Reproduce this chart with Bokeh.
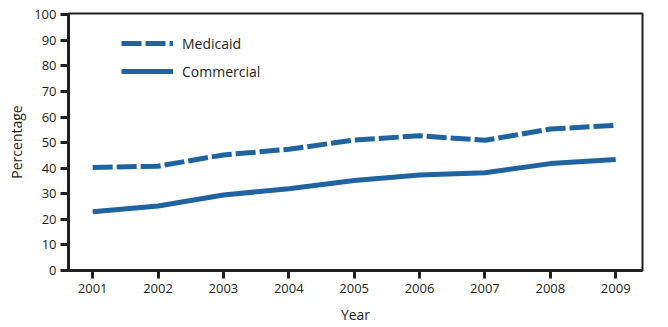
from bokeh.plotting import figure
from bokeh.models import ColumnDataSource, Legend, LegendItem, FixedTicker, Range1d
from bokeh.embed import file_html
from bokeh.resources import INLINE

years = [2001, 2002, 2003, 2004, 2005, 2006, 2007, 2008, 2009]
medicaid = [40.3, 40.8, 45.2, 47.4, 51.0, 52.7, 50.9, 55.3, 56.8]
commercial = [23.0, 25.2, 29.5, 32.0, 35.2, 37.3, 38.2, 41.8, 43.4]
y_ticks = [0, 10, 20, 30, 40, 50, 60, 70, 80, 90, 100]

FONT = "Open Sans"
BLUE = "#1f63a1"
DARK = "#231f20"

p = figure(frame_width=574, frame_height=257, output_backend="svg", toolbar_location=None,
           x_range=Range1d(2000.63, 2009.41), y_range=Range1d(0, 100.5))
p.min_border_left = 68
p.min_border_right = 26
p.min_border_top = 13
p.min_border_bottom = 57
p.background_fill_color = "white"
p.border_fill_color = "white"
p.outline_line_color = DARK
p.outline_line_width = 2
p.xgrid.visible = False
p.ygrid.visible = False

src = ColumnDataSource(dict(year=years, medicaid=medicaid, commercial=commercial))
r1 = p.line("year", "medicaid", source=src, line_color=BLUE, line_width=5, line_dash="20 4")
r2 = p.line("year", "commercial", source=src, line_color=BLUE, line_width=5)

for ax in (p.xaxis[0], p.yaxis[0]):
    ax.axis_line_color = DARK
    ax.axis_line_width = 3
    ax.major_tick_line_color = DARK
    ax.major_tick_line_width = 3
    ax.major_tick_out = 8
    ax.major_tick_in = 0
    ax.minor_tick_line_color = None
    ax.major_label_text_font = FONT
    ax.major_label_text_font_size = "13px"
    ax.major_label_text_color = DARK
    ax.axis_label_text_font = FONT
    ax.axis_label_text_font_size = "14px"
    ax.axis_label_text_font_style = "normal"
    ax.axis_label_text_color = DARK

p.xaxis[0].ticker = FixedTicker(ticks=years)
p.yaxis[0].ticker = FixedTicker(ticks=y_ticks)
p.xaxis[0].axis_label = "Year"
p.yaxis[0].axis_label = "Percentage"
p.xaxis[0].major_label_standoff = 5
p.yaxis[0].major_label_standoff = 4
p.xaxis[0].axis_label_standoff = 9
p.yaxis[0].axis_label_standoff = 5

legend = Legend(items=[LegendItem(label="Medicaid", renderers=[r1]),
                       LegendItem(label="Commercial", renderers=[r2])],
                location=(53, 189))
legend.glyph_width = 52
legend.glyph_height = 20
legend.label_height = 20
legend.spacing = 8
legend.padding = 0
legend.margin = 0
legend.label_standoff = 9
legend.label_text_font = FONT
legend.label_text_font_size = "14px"
legend.label_text_color = DARK
legend.border_line_color = None
legend.background_fill_alpha = 0
p.add_layout(legend, "center")

open("out.html", "w").write(file_html(p, INLINE))
